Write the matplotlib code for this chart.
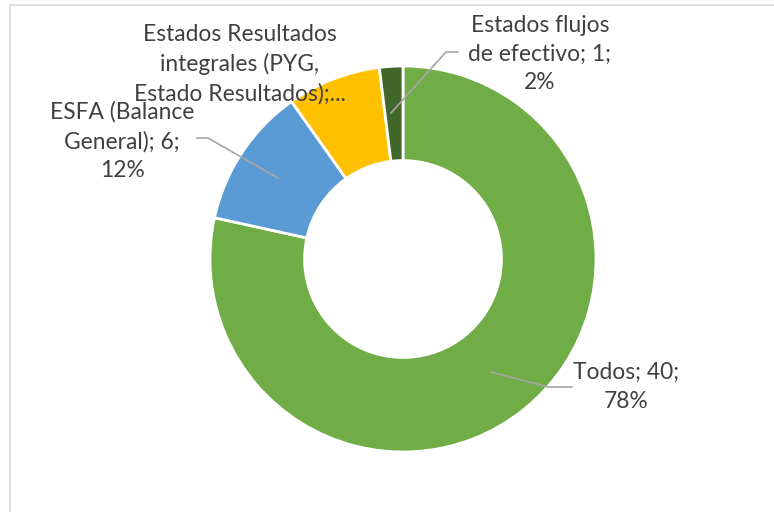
import matplotlib
matplotlib.use("Agg")
import matplotlib.pyplot as plt
from matplotlib.patches import Rectangle

# data
categories = ["Todos", "ESFA (Balance\nGeneral)",
              "Estados Resultados\nintegrales (PYG,\nEstado Resultados)",
              "Estados flujos\nde efectivo"]
values = [40, 6, 4, 1]
colors = ["#70AD47", "#5B9BD5", "#FFC000", "#41672B"]
label_texts = ["Todos; 40;\n78%",
               "ESFA (Balance\nGeneral); 6;\n12%",
               "Estados Resultados\nintegrales (PYG,\nEstado Resultados);...",
               "Estados flujos\nde efectivo; 1;\n2%"]

W, H = 774, 512
plt.rcParams['font.family'] = ['Lato', 'DejaVu Sans']

fig = plt.figure(figsize=(W / 100, H / 100), dpi=100)
ax = fig.add_axes([0, 0, 1, 1])

def Y(y):
    # image row -> data y
    return H - y

# chart frame (only left and top visible)
ax.add_patch(Rectangle((10, Y(600)), 900, 595, fill=False,
                       edgecolor="#D9D9D9", linewidth=1.2))

cx, cy, r = 403, Y(259), 193
ax.pie(values, colors=colors, startangle=90, counterclock=False,
       center=(cx, cy), radius=r, frame=True,
       wedgeprops=dict(width=r * 0.49, edgecolor="white", linewidth=2))
ax.set_xlim(0, W)
ax.set_ylim(0, H)
ax.set_aspect('equal')
ax.axis('off')

txt = dict(color="#404040", fontsize=16.4, ha="center", va="center",
           linespacing=1.45)
line = dict(color="#A6A6A6", linewidth=1.2)

# label positions (image px) and leader lines
label_pos = [(626, 387), (122, 141), (240, 64), (540, 54)]
leaders = [
    [(491, 372), (548, 387), (572, 387)],
    [(278, 178), (208, 138), (197, 138)],
    None,
    [(391, 113), (446, 52), (458, 52)],
]
for text, (lx, ly), ld in zip(label_texts, label_pos, leaders):
    ax.text(lx, Y(ly), text, **txt)
    if ld:
        ax.plot([p[0] for p in ld], [Y(p[1]) for p in ld], **line)

fig.savefig("out.png", dpi=100)
